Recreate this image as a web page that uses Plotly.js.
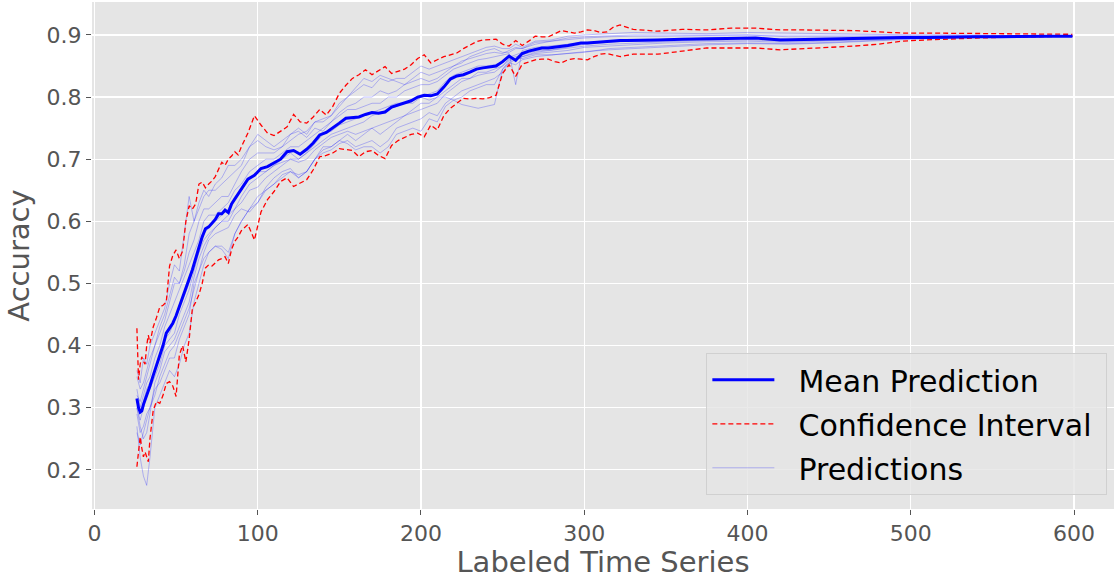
<!DOCTYPE html>
<html>
<head>
<meta charset="utf-8">
<script src="https://cdn.plot.ly/plotly-3.0.1.min.js"></script>
<style>html,body{margin:0;padding:0;background:#fff;}#chart{width:1115px;height:579px;}</style>
</head>
<body>
<div id="chart"></div>
<script>
// x grid for mean and confidence interval
const xFine = [26,27,28,29,30,31,32,33,34,36,38,40,42,44,46,48,50,52,54,56,58,60,62,64,66,68,70,72,74,76,78,80,82,84,86,88,90,
94,98,102,106,110,114,118,122,126,130,134,138,142,146,150,154,158,162,166,170,174,178,182,186,190,194,198,202,206,210,214,218,222,226,230,234,238,242,246,250,254,258,262,266,270,274,278,282,286,290,294,298,302,306,310,314,318,322,326,330,
345,360,375,390,405,420,435,450,465,480,495,510,525,540,555,570,585,599];

const meanAcc = [0.315,0.300,0.293,0.295,0.305,0.312,0.318,0.325,0.335,0.352,0.368,0.383,0.400,0.420,0.428,0.436,0.448,0.462,0.478,0.490,0.507,0.522,0.542,0.558,0.575,0.588,0.591,0.597,0.603,0.612,0.612,0.618,0.614,0.628,0.636,0.643,0.650,
0.668,0.674,0.685,0.688,0.694,0.700,0.712,0.714,0.708,0.716,0.726,0.739,0.743,0.750,0.758,0.766,0.767,0.768,0.772,0.775,0.774,0.776,0.784,0.787,0.790,0.794,0.800,0.803,0.802,0.805,0.816,0.829,0.834,0.836,0.840,0.845,0.847,0.848,0.850,0.857,0.866,0.859,0.870,0.874,0.877,0.879,0.879,0.880,0.882,0.883,0.885,0.887,0.887,0.888,0.889,0.889,0.890,0.891,0.891,0.891,
0.892,0.893,0.894,0.895,0.895,0.892,0.893,0.893,0.894,0.895,0.896,0.896,0.897,0.897,0.897,0.898,0.898,0.898];

const upperCI = [0.428,0.345,0.370,0.382,0.375,0.370,0.400,0.417,0.404,0.430,0.445,0.462,0.465,0.470,0.528,0.545,0.554,0.540,0.552,0.600,0.625,0.620,0.628,0.660,0.663,0.654,0.660,0.665,0.672,0.685,0.695,0.690,0.700,0.705,0.712,0.707,0.720,
0.742,0.770,0.755,0.742,0.738,0.745,0.752,0.772,0.760,0.758,0.768,0.780,0.771,0.785,0.806,0.819,0.830,0.836,0.844,0.836,0.842,0.849,0.838,0.842,0.845,0.852,0.862,0.868,0.855,0.860,0.865,0.868,0.871,0.878,0.884,0.889,0.892,0.893,0.893,0.885,0.882,0.891,0.883,0.890,0.898,0.897,0.897,0.902,0.907,0.905,0.903,0.905,0.908,0.907,0.904,0.905,0.913,0.916,0.912,0.909,
0.906,0.909,0.908,0.911,0.911,0.908,0.908,0.908,0.907,0.905,0.903,0.903,0.9025,0.902,0.902,0.9015,0.901,0.901];

const lowerCI = [0.205,0.235,0.253,0.235,0.221,0.229,0.222,0.213,0.250,0.296,0.310,0.307,0.320,0.339,0.342,0.335,0.318,0.385,0.400,0.374,0.410,0.460,0.470,0.482,0.500,0.525,0.530,0.528,0.533,0.538,0.540,0.543,0.532,0.555,0.568,0.575,0.585,
0.595,0.570,0.615,0.635,0.648,0.664,0.670,0.656,0.662,0.667,0.683,0.704,0.706,0.710,0.717,0.716,0.714,0.704,0.712,0.714,0.706,0.701,0.722,0.730,0.735,0.740,0.742,0.736,0.755,0.747,0.770,0.782,0.790,0.798,0.797,0.798,0.797,0.799,0.803,0.838,0.852,0.833,0.853,0.857,0.860,0.861,0.861,0.857,0.855,0.860,0.862,0.861,0.860,0.865,0.869,0.870,0.867,0.865,0.867,0.869,
0.869,0.874,0.879,0.879,0.879,0.876,0.878,0.879,0.882,0.885,0.890,0.892,0.894,0.895,0.896,0.897,0.898,0.898];

// x grid for individual prediction runs
const xPred = [26,28,30,32,34,37,40,43,46,49,52,55,58,61,64,67,70,74,78,82,86,90,95,100,105,110,115,120,125,130,135,140,145,150,155,160,165,170,175,180,185,190,195,200,205,210,215,220,225,230,235,240,245,250,254,258,262,270,280,290,300,315,330,350,375,400,425,450,475,500,530,560,599];

const pred1 = [0.36,0.34,0.38,0.37,0.40, 0.42,0.44,0.46,0.50,0.53,0.52,0.58,0.64,0.60,0.63,0.65,0.64, 0.66,0.67,0.69,0.69,0.70,
0.72,0.74,0.73,0.72,0.73,0.74,0.75,0.74,0.76,0.76, 0.77,0.79,0.80,0.81,0.82,0.815,0.83,0.825,0.83,0.83, 0.84,0.85,0.845,0.85,0.855,0.86,0.865,0.87,0.875,0.88, 0.882,0.878,
0.878,0.885,0.88, 0.89,0.892,0.898,0.90, 0.902,0.904,0.903,0.902,0.904,0.903,0.902,0.901,0.90,0.90,0.899,0.899];
const pred2 = [0.27,0.22,0.19,0.175,0.22, 0.30,0.32,0.34,0.36,0.35,0.37,0.40,0.42,0.47,0.50,0.53,0.55, 0.56,0.56,0.55,0.58,0.60,
0.62,0.63,0.65,0.66,0.67,0.68,0.67,0.68,0.70,0.72, 0.72,0.73,0.74,0.73,0.74,0.75,0.74,0.75,0.76,0.77, 0.78,0.79,0.79,0.80,0.81,0.82,0.83,0.83,0.84,0.84, 0.845,0.85,
0.86,0.862,0.865, 0.87,0.872,0.875,0.88, 0.882,0.885,0.887,0.889,0.89,0.888,0.89,0.892,0.895,0.896,0.897,0.898];
const pred3 = [0.30,0.28,0.30,0.32,0.33, 0.35,0.37,0.40,0.41,0.42,0.45,0.47,0.49,0.52,0.55,0.57,0.58, 0.59,0.60,0.61,0.62,0.64,
0.66,0.67,0.68,0.69,0.695,0.70,0.70,0.71,0.72,0.73, 0.74,0.745,0.75,0.755,0.76,0.77,0.775,0.78,0.785,0.79, 0.79,0.80,0.795,0.80,0.80,0.795,0.788,0.785,0.782,0.785, 0.788,0.845,
0.855,0.86,0.865, 0.872,0.875,0.878,0.882, 0.885,0.887,0.889,0.891,0.892,0.89,0.891,0.893,0.895,0.896,0.897,0.898];
const pred4 = [0.33,0.30,0.32,0.34,0.35, 0.38,0.40,0.43,0.45,0.47,0.49,0.51,0.53,0.55,0.57,0.60,0.61, 0.61,0.62,0.63,0.65,0.66,
0.68,0.69,0.70,0.70,0.71,0.72,0.72,0.73,0.74,0.75, 0.76,0.77,0.78,0.78,0.785,0.79,0.79,0.80,0.80,0.81, 0.815,0.82,0.82,0.825,0.835,0.845,0.85,0.855,0.86,0.862, 0.865,0.868,
0.87,0.82,0.875, 0.88,0.882,0.885,0.888, 0.89,0.892,0.893,0.894,0.896,0.893,0.894,0.895,0.896,0.897,0.898,0.898];
const pred5 = [0.29,0.26,0.27,0.29,0.30, 0.32,0.35,0.37,0.39,0.40,0.42,0.44,0.46,0.49,0.52,0.54,0.55, 0.56,0.555,0.54,0.58,0.60,
0.62,0.64,0.65,0.66,0.675,0.68,0.675,0.68,0.70,0.71, 0.715,0.725,0.73,0.72,0.725,0.73,0.72,0.73,0.75,0.755, 0.76,0.765,0.775,0.77,0.79,0.80,0.81,0.815,0.82,0.825, 0.83,0.84,
0.855,0.852,0.86, 0.865,0.868,0.87,0.873, 0.876,0.878,0.88,0.884,0.886,0.885,0.887,0.89,0.893,0.895,0.896,0.898];
const pred6 = [0.32,0.31,0.33,0.35,0.37, 0.40,0.42,0.44,0.47,0.50,0.50,0.52,0.55,0.57,0.60,0.62,0.62, 0.63,0.64,0.64,0.66,0.68,
0.70,0.71,0.71,0.71,0.72,0.73,0.74,0.745,0.76,0.765, 0.77,0.785,0.80,0.815,0.83,0.825,0.835,0.83,0.825,0.82, 0.83,0.84,0.835,0.84,0.845,0.85,0.855,0.865,0.87,0.875, 0.878,0.872,
0.872,0.878,0.878, 0.885,0.89,0.895,0.897, 0.898,0.90,0.90,0.90,0.90,0.899,0.899,0.899,0.899,0.899,0.899,0.899];
const pred7 = [0.31,0.29,0.31,0.33,0.34, 0.36,0.38,0.41,0.42,0.44,0.46,0.48,0.50,0.53,0.55,0.58,0.59, 0.60,0.61,0.62,0.64,0.65,
0.67,0.68,0.68,0.69,0.70,0.71,0.70,0.71,0.725,0.74, 0.745,0.755,0.76,0.765,0.77,0.775,0.78,0.785,0.79,0.79, 0.795,0.80,0.805,0.81,0.825,0.835,0.84,0.845,0.85,0.85, 0.852,0.856,
0.864,0.868,0.872, 0.878,0.88,0.883,0.887, 0.89,0.891,0.893,0.895,0.896,0.893,0.894,0.895,0.896,0.897,0.898,0.898];
const pred8 = [0.26,0.24,0.26,0.28,0.30, 0.33,0.34,0.36,0.38,0.38,0.41,0.43,0.45,0.50,0.52,0.55,0.57, 0.58,0.585,0.59,0.61,0.62,
0.615,0.63,0.655,0.67,0.68,0.685,0.67,0.68,0.70,0.715, 0.72,0.73,0.725,0.715,0.72,0.72,0.71,0.72,0.74,0.745, 0.75,0.745,0.765,0.76,0.785,0.795,0.80,0.81,0.815,0.82, 0.82,0.845,
0.858,0.862,0.862, 0.868,0.868,0.87,0.872, 0.878,0.88,0.882,0.886,0.887,0.886,0.888,0.891,0.894,0.896,0.897,0.898];
const pred9 = [0.35,0.33,0.34,0.36,0.38, 0.40,0.43,0.45,0.48,0.51,0.50,0.53,0.58,0.60,0.62,0.64,0.65, 0.65,0.66,0.67,0.68,0.69,
0.72,0.73,0.72,0.715,0.72,0.74,0.745,0.735,0.75,0.745, 0.76,0.775,0.785,0.79,0.80,0.80,0.81,0.805,0.81,0.82, 0.825,0.83,0.825,0.83,0.84,0.85,0.858,0.862,0.866,0.87, 0.872,0.87,
0.875,0.88,0.878, 0.888,0.89,0.893,0.895, 0.897,0.898,0.898,0.899,0.90,0.897,0.897,0.897,0.898,0.898,0.898,0.898];
const pred10 = [0.30,0.27,0.25,0.26,0.29, 0.34,0.36,0.39,0.40,0.41,0.43,0.45,0.47,0.51,0.54,0.56,0.575, 0.59,0.60,0.60,0.62,0.63,
0.65,0.655,0.67,0.68,0.69,0.70,0.695,0.70,0.715,0.725, 0.735,0.74,0.745,0.74,0.745,0.75,0.755,0.76,0.765,0.77, 0.775,0.78,0.785,0.79,0.805,0.815,0.825,0.83,0.835,0.838, 0.84,0.85,
0.862,0.865,0.868, 0.874,0.876,0.88,0.885, 0.888,0.89,0.891,0.893,0.895,0.892,0.893,0.894,0.895,0.897,0.897,0.898];

const predictionRuns = [pred1,pred2,pred3,pred4,pred5,pred6,pred7,pred8,pred9,pred10];

const legendNames = ['Mean Prediction', 'Confidence Interval', 'Predictions'];
const xTicks = [0,100,200,300,400,500,600];
const yTicks = [0.2,0.3,0.4,0.5,0.6,0.7,0.8,0.9];

const pad = '\u00a0\u00a0';
const tail = '\u00a0';
const traces = [];
predictionRuns.forEach((run, i) => {
  traces.push({
    x: xPred, y: run, type: 'scatter', mode: 'lines',
    name: pad + legendNames[2] + tail, legendgroup: 'pred', showlegend: i === 0, legendrank: 3,
    line: {color: 'rgba(0,0,255,0.25)', width: 1},
    hoverinfo: 'skip'
  });
});
traces.push({
  x: xFine, y: upperCI, type: 'scatter', mode: 'lines',
  name: pad + legendNames[1] + tail, legendgroup: 'ci', showlegend: true, legendrank: 2,
  line: {color: '#ff0000', width: 1.3, dash: '5px,3px'}
});
traces.push({
  x: xFine, y: lowerCI, type: 'scatter', mode: 'lines',
  name: pad + legendNames[1] + tail, legendgroup: 'ci', showlegend: false, legendrank: 2,
  line: {color: '#ff0000', width: 1.3, dash: '5px,3px'}
});
traces.push({
  x: xFine, y: meanAcc, type: 'scatter', mode: 'lines',
  name: pad + legendNames[0] + tail, legendgroup: 'mean', showlegend: true, legendrank: 1,
  line: {color: '#0000ff', width: 3}
});

const layout = {
  width: 1115, height: 579,
  paper_bgcolor: '#ffffff', plot_bgcolor: '#e5e5e5',
  margin: {l: 92, r: 1, t: 2, b: 70},
  font: {family: 'DejaVu Sans, sans-serif', color: '#555555'},
  showlegend: true,
  xaxis: {
    range: [-1.5, 624.5], tickvals: xTicks, ticktext: xTicks.map(String),
    showgrid: true, gridcolor: '#ffffff', gridwidth: 1.2, zeroline: false, showline: false,
    ticks: 'outside', ticklen: 5, tickcolor: '#555555', tickwidth: 1,
    tickfont: {size: 22, color: '#555555'},
    title: {text: 'Labeled Time Series', font: {size: 29, color: '#555555'}, standoff: 6}
  },
  yaxis: {
    range: [0.137, 0.953], tickvals: yTicks, ticktext: yTicks.map(v => v.toFixed(1)),
    showgrid: true, gridcolor: '#ffffff', gridwidth: 1.2, zeroline: false, showline: false,
    ticks: 'outside', ticklen: 5, tickcolor: '#555555', tickwidth: 1,
    tickfont: {size: 22, color: '#555555'},
    title: {text: 'Accuracy', font: {size: 29, color: '#555555'}, standoff: 8}
  },
  legend: {
    x: 0.9935, y: 0.028, xanchor: 'right', yanchor: 'bottom',
    bgcolor: 'rgba(229,229,229,0.8)', bordercolor: '#d0d0d0', borderwidth: 1,
    font: {size: 30, color: '#000000'}, tracegroupgap: 2, traceorder: 'grouped',
    itemwidth: 62
  }
};

Plotly.newPlot('chart', traces, layout, {displayModeBar: false, staticPlot: true});
</script>
</body>
</html>
